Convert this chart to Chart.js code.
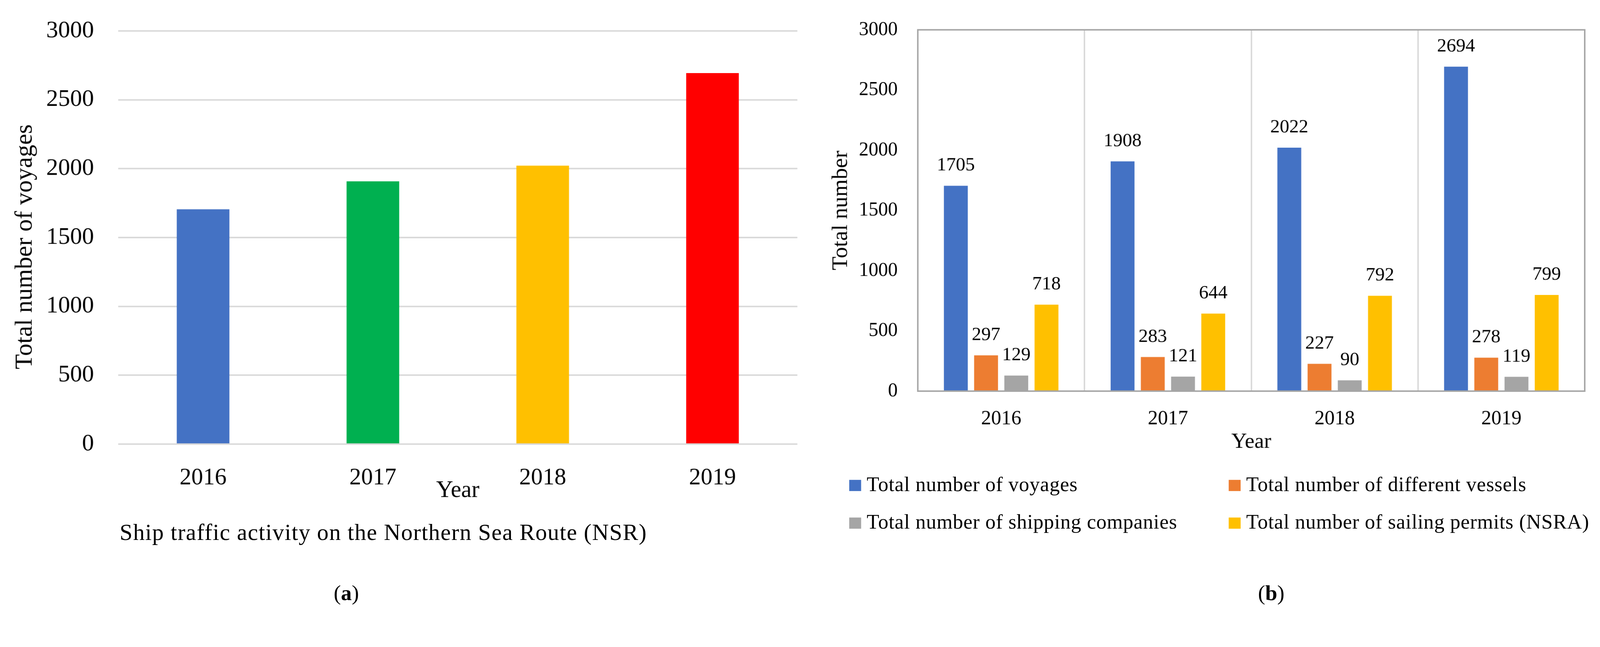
<!DOCTYPE html>
<html>
<head>
<meta charset="utf-8">
<script src="https://cdn.jsdelivr.net/npm/chart.js@4.4.1/dist/chart.umd.min.js"></script>
<style>
  html, body { margin: 0; padding: 0; overflow: hidden; background: #fff; }
  #page { position: absolute; left: 0; top: 0; width: 4292px; height: 1656px; background: #fff;
          transform-origin: 0 0; font-family: 'Liberation Serif', 'Times New Roman', serif; color: #000; }
  canvas { position: absolute; top: 0; }
  #chartA { left: 0; }
  #chartB { left: 2150px; }
  .txt { position: absolute; white-space: nowrap; line-height: 1; }
  .sw { position: absolute; width: 32px; height: 30px; }
</style>
</head>
<body>
<div id="page">
<canvas id="chartA" width="2150" height="1656"></canvas>
<canvas id="chartB" width="2142" height="1656"></canvas>
<div class="txt" style="left:321px;top:1396px;font-size:62px;letter-spacing:1.5px;">Ship traffic activity on the Northern Sea Route (NSR)</div>
<div class="txt" style="left:929px;top:1562px;font-size:58px;transform:translateX(-50%);">(<b>a</b>)</div>
<div class="txt" style="left:3410px;top:1562px;font-size:58px;transform:translateX(-50%);">(<b>b</b>)</div>
<div id="legend"></div>
</div>
<script>
const years = ['2016', '2017', '2018', '2019'];
const voyages = [1705, 1908, 2022, 2694];
const vessels = [297, 283, 227, 278];
const companies = [129, 121, 90, 119];
const permits = [718, 644, 792, 799];
const yTicks = [0, 500, 1000, 1500, 2000, 2500, 3000];

const seriesNames = [
  'Total number of voyages',
  'Total number of different vessels',
  'Total number of shipping companies',
  'Total number of sailing permits (NSRA)'
];
const seriesValues = [voyages, vessels, companies, permits];
const seriesColors = ['#4472C4', '#ED7D31', '#A5A5A5', '#FFC000'];
const yearColors = ['#4472C4', '#00B050', '#FFC000', '#FF0000'];

// the viewport can be narrower than 4292 css px, so fit the page into it
const pageScale = Math.min(window.innerWidth / 4292, window.innerHeight / 1656);
if (Math.abs(pageScale - 1) > 0.001) {
  document.getElementById('page').style.transform = 'scale(' + pageScale + ')';
}

Chart.defaults.font.family = "'Liberation Serif', 'Times New Roman', serif";
Chart.defaults.color = '#000';

// nudge layout padding until the plot area sits where it should
const fitArea = (chart, target) => {
  for (let k = 0; k < 4; k++) {
    const a = chart.chartArea;
    const p = chart.options.layout.padding;
    const dt = target.top - a.top, db = a.bottom - target.bottom;
    const dl = target.left - a.left, dr = a.right - target.right;
    if (Math.abs(dt) + Math.abs(db) + Math.abs(dl) + Math.abs(dr) < 0.5) break;
    p.top += dt; p.bottom += db; p.left += dl; p.right += dr;
    chart.update();
  }
};

// (a) voyages per year
const chartA = new Chart(document.getElementById('chartA'), {
  type: 'bar',
  data: {
    labels: years,
    datasets: [{
      data: voyages,
      backgroundColor: yearColors,
      barPercentage: 0.31,
      categoryPercentage: 1
    }]
  },
  options: {
    responsive: false,
    animation: false,
    devicePixelRatio: 1,
    layout: { padding: { top: 83, left: 0, right: 11, bottom: 265 } },
    plugins: { legend: { display: false }, tooltip: { enabled: false } },
    scales: {
      x: {
        grid: { display: false },
        border: { display: false },
        ticks: { font: { size: 63 }, padding: 46 },
        title: { display: true, text: 'Year', font: { size: 63 }, padding: { top: 0, bottom: 37 } },
        afterFit: s => { s.height = 200; }
      },
      y: {
        min: 0,
        max: 3000,
        afterBuildTicks: s => { s.ticks = yTicks.map(v => ({ value: v })); },
        // invisible tick marks give the label gap without padding the top
        grid: { color: '#D9D9D9', lineWidth: 4, drawTicks: true, tickLength: 65, tickColor: 'rgba(0,0,0,0)' },
        border: { display: false },
        ticks: { font: { size: 64 }, padding: 0, callback: v => String(v) },
        title: { display: true, text: 'Total number of voyages   ', font: { size: 66 }, padding: { top: 28, bottom: 0 } },
        afterFit: s => { s.width = 317; }
      }
    }
  }
});
fitArea(chartA, { top: 83, bottom: 1191, left: 317, right: 2139 });

// frame around the plot area and value labels above bars
const framePlugin = {
  id: 'frame',
  afterDatasetsDraw(chart) {
    const { ctx, chartArea: a } = chart;
    ctx.save();
    ctx.strokeStyle = '#A6A6A6';
    ctx.lineWidth = 4;
    ctx.strokeRect(a.left, a.top, a.right - a.left, a.bottom - a.top);
    ctx.restore();
  }
};

const valueLabels = {
  id: 'valueLabels',
  afterDatasetsDraw(chart) {
    const ctx = chart.ctx;
    ctx.save();
    ctx.font = "51px 'Liberation Serif', serif";
    ctx.fillStyle = '#000';
    ctx.textAlign = 'center';
    ctx.textBaseline = 'alphabetic';
    chart.data.datasets.forEach((ds, i) => {
      chart.getDatasetMeta(i).data.forEach((bar, j) => {
        ctx.fillText(String(ds.data[j]), bar.x, bar.y - 41);
      });
    });
    ctx.restore();
  }
};

// (b) four series per year
const chartB = new Chart(document.getElementById('chartB'), {
  type: 'bar',
  data: {
    labels: years,
    datasets: seriesNames.map((name, i) => ({
      label: name,
      data: seriesValues[i],
      backgroundColor: seriesColors[i],
      barPercentage: 0.79,
      categoryPercentage: 0.725
    }))
  },
  options: {
    responsive: false,
    animation: false,
    devicePixelRatio: 1,
    layout: { padding: { top: 80, left: 0, right: 41, bottom: 407 } },
    plugins: { legend: { display: false }, tooltip: { enabled: false } },
    scales: {
      x: {
        grid: { color: '#D9D9D9', lineWidth: 4, drawTicks: false },
        border: { display: false },
        ticks: { font: { size: 54 }, padding: 42 },
        title: { display: true, text: 'Year', font: { size: 58 }, padding: { top: 0, bottom: 28 } },
        afterFit: s => { s.height = 200; }
      },
      y: {
        min: 0,
        max: 3000,
        afterBuildTicks: s => { s.ticks = yTicks.map(v => ({ value: v })); },
        grid: { drawOnChartArea: false, drawTicks: true, tickLength: 54, tickColor: 'rgba(0,0,0,0)' },
        border: { display: false },
        ticks: { font: { size: 52 }, padding: 0, callback: v => String(v) },
        title: { display: true, text: 'Total number', font: { size: 60 }, padding: { top: 70, bottom: 0 } },
        afterFit: s => { s.width = 312; }
      }
    }
  },
  plugins: [framePlugin, valueLabels]
});
fitArea(chartB, { top: 80, bottom: 1049, left: 312, right: 2101 });

// legend for (b): two columns, two rows
const legend = document.getElementById('legend');
const colX = [2278, 3296];
const rowBase = [1317, 1418];
seriesNames.forEach((name, i) => {
  const x = colX[i % 2];
  const base = rowBase[Math.floor(i / 2)];
  const sw = document.createElement('div');
  sw.className = 'sw';
  sw.style.left = x + 'px';
  sw.style.top = (base - 30) + 'px';
  sw.style.background = seriesColors[i];
  legend.appendChild(sw);
  const t = document.createElement('div');
  t.className = 'txt';
  t.style.left = (x + 47) + 'px';
  t.style.top = (base - 46) + 'px';
  t.style.fontSize = '55px';
  t.style.letterSpacing = '0.8px';
  t.textContent = name;
  legend.appendChild(t);
});
</script>
</body>
</html>
